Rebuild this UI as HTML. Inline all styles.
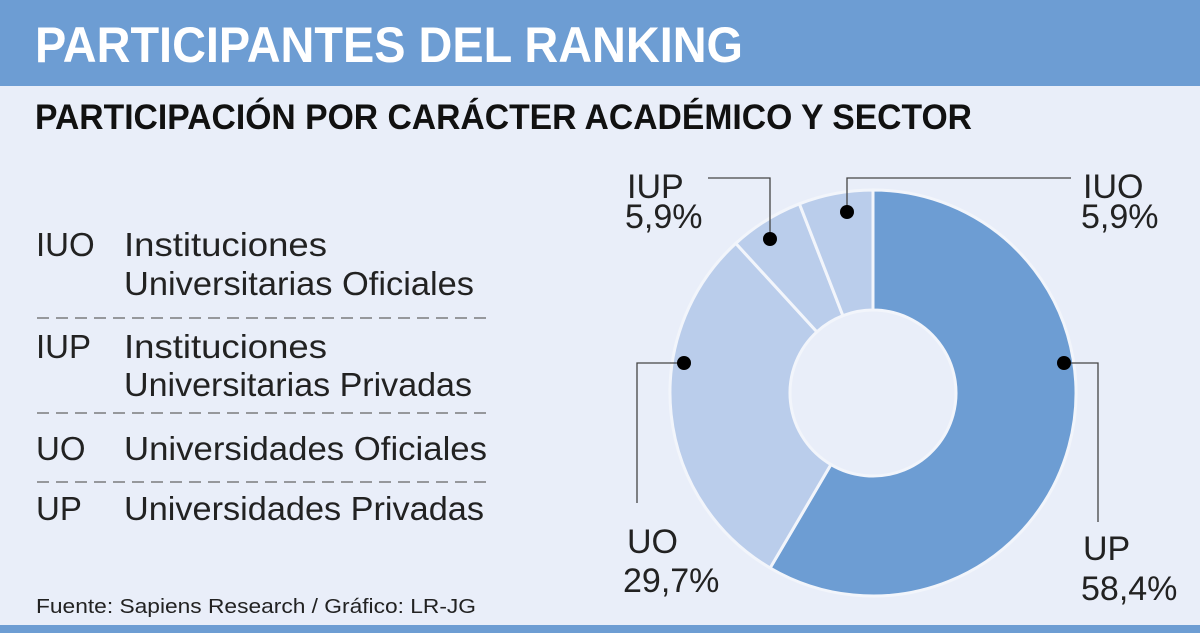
<!DOCTYPE html>
<html><head><meta charset="utf-8"><style>
html,body{margin:0;padding:0}
body{width:1200px;height:633px;overflow:hidden;background:#e9eef9;font-family:"Liberation Sans",sans-serif}
svg{display:block}
</style></head><body>
<svg id="chart" width="1200" height="633" viewBox="0 0 1200 633">
<rect x="0" y="0" width="1200" height="86" fill="#6d9dd3"/>
<text x="35" y="62" font-size="50" font-weight="bold" fill="#fff" textLength="708" lengthAdjust="spacingAndGlyphs">PARTICIPANTES DEL RANKING</text>
<text x="35" y="129" font-size="35" font-weight="bold" fill="#111" textLength="937" lengthAdjust="spacingAndGlyphs">PARTICIPACIÓN POR CARÁCTER ACADÉMICO Y SECTOR</text>
<g font-size="33" fill="#222">
<text x="36" y="256">IUO</text>
<text x="124" y="256" textLength="203" lengthAdjust="spacingAndGlyphs">Instituciones</text>
<text x="124" y="295" textLength="350" lengthAdjust="spacingAndGlyphs">Universitarias Oficiales</text>
<line x1="37" y1="318" x2="490" y2="318" stroke="#666" stroke-width="1.2" stroke-dasharray="12,7"/>
<text x="36" y="358">IUP</text>
<text x="124" y="358" textLength="203" lengthAdjust="spacingAndGlyphs">Instituciones</text>
<text x="124" y="396" textLength="348" lengthAdjust="spacingAndGlyphs">Universitarias Privadas</text>
<line x1="37" y1="413" x2="490" y2="413" stroke="#666" stroke-width="1.2" stroke-dasharray="12,7"/>
<text x="36" y="460">UO</text>
<text x="124" y="460" textLength="363" lengthAdjust="spacingAndGlyphs">Universidades Oficiales</text>
<line x1="37" y1="482" x2="490" y2="482" stroke="#666" stroke-width="1.2" stroke-dasharray="12,7"/>
<text x="36" y="520">UP</text>
<text x="124" y="520" textLength="360" lengthAdjust="spacingAndGlyphs">Universidades Privadas</text>
</g>
<text x="36" y="613" font-size="20" fill="#222" textLength="440" lengthAdjust="spacingAndGlyphs">Fuente: Sapiens Research / Gráfico: LR-JG</text>
<g id="donut"></g>
<g id="labels" font-size="34" fill="#222">
<text x="627" y="198">IUP</text>
<text x="625" y="228" id="pct-iup"></text>
<text x="1083" y="198">IUO</text>
<text x="1081" y="228" id="pct-iuo"></text>
<text x="627" y="553">UO</text>
<text x="623" y="592" id="pct-uo"></text>
<text x="1083" y="560">UP</text>
<text x="1081" y="600" id="pct-up"></text>
</g>
<g stroke="#444" stroke-width="1.3" fill="none">
<polyline points="1064,363 1098,363 1098,522"/>
<polyline points="684,363 637,363 637,503"/>
<polyline points="708,178 770,178 770,239"/>
<polyline points="1071,178 847,178 847,212"/>
</g>
<g fill="#000">
<circle cx="1064" cy="363" r="7"/>
<circle cx="684" cy="363" r="7"/>
<circle cx="770" cy="239" r="7"/>
<circle cx="847" cy="212" r="7"/>
</g>
<rect x="0" y="625" width="1200" height="8" fill="#6d9dd3"/>
</svg>
<script>
const categories = ["UP", "UO", "IUP", "IUO"];
const values = [58.4, 29.7, 5.9, 5.9];
const valueLabels = ["58,4%", "29,7%", "5,9%", "5,9%"];
const colors = ["#6d9dd3", "#bacdeb", "#bacdeb", "#bacdeb"];
const cx = 873, cy = 393, R = 203, r = 83;
const ns = "http://www.w3.org/2000/svg";
const g = document.getElementById("donut");
const total = values.reduce((a, b) => a + b, 0);
function pt(a, rad) { return [cx + rad * Math.sin(a), cy - rad * Math.cos(a)]; }
let acc = 0;
values.forEach((v, i) => {
  const a0 = acc / total * 2 * Math.PI;
  acc += v;
  const a1 = acc / total * 2 * Math.PI;
  const large = (a1 - a0) > Math.PI ? 1 : 0;
  const p0 = pt(a0, R), p1 = pt(a1, R), q1 = pt(a1, r), q0 = pt(a0, r);
  const d = `M${p0[0]},${p0[1]} A${R},${R} 0 ${large} 1 ${p1[0]},${p1[1]} L${q1[0]},${q1[1]} A${r},${r} 0 ${large} 0 ${q0[0]},${q0[1]} Z`;
  const path = document.createElementNS(ns, "path");
  path.setAttribute("d", d);
  path.setAttribute("fill", colors[i]);
  path.setAttribute("stroke", "#f2f5fb");
  path.setAttribute("stroke-width", "3");
  
  
  g.appendChild(path);
});
categories.forEach((c, i) => {
  const el = document.getElementById("pct-" + c.toLowerCase());
  if (el) el.textContent = valueLabels[i];
});
</script>
</body></html>
